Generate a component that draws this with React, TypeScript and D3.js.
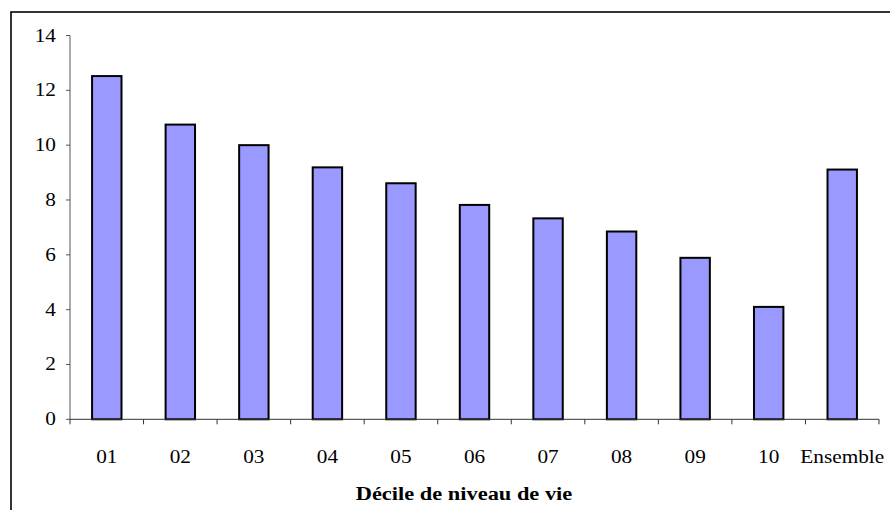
import React from "react";
import * as d3 from "d3";

const categories = ["01", "02", "03", "04", "05", "06", "07", "08", "09", "10", "Ensemble"];
const values = [12.52, 10.75, 10.0, 9.19, 8.61, 7.82, 7.33, 6.85, 5.89, 4.1, 9.11];
const yTicks = [0, 2, 4, 6, 8, 10, 12, 14];
const xAxisTitle = "Décile de niveau de vie";

const W = 890;
const H = 510;
const left = 70;
const right = 879;
const top = 35.5;
const bottom = 419.3;
const FONT = "Times New Roman, Liberation Serif, Times, serif";
const SX = 1.15;

export default function App() {
  const x = d3.scaleBand<string>().domain(categories).range([left, right]).paddingInner(0.6).paddingOuter(0.3);
  const y = d3.scaleLinear().domain([0, 14]).range([bottom, top]);
  const boundaries = d3.range(categories.length + 1).map((i) => left + i * ((right - left) / categories.length));

  return (
    <svg width={W} height={H} style={{ position: "absolute", left: 0, top: 0, background: "#fff" }}>
      <rect x={11} y={12} width={1000} height={1000} fill="#fff" stroke="#000" strokeWidth={1.6} />
      {categories.map((c, i) => (
        <rect
          key={c}
          x={x(c)!}
          y={y(values[i])}
          width={x.bandwidth()}
          height={y(0) - y(values[i])}
          fill="#9999FF"
          stroke="#000"
          strokeWidth={2}
        />
      ))}
      <line x1={left} x2={left} y1={y(14)} y2={y(0)} stroke="#555" strokeWidth={1} />
      {yTicks.map((t) => (
        <g key={t}>
          <line x1={left - 4} x2={left} y1={y(t)} y2={y(t)} stroke="#555" strokeWidth={1} />
          <text
            transform={`translate(${left - 14},${y(t) + 6}) scale(${SX},1)`}
            textAnchor="end"
            style={{ fontFamily: FONT, fontSize: 18.5 }}
            fill="#000"
          >
            {t}
          </text>
        </g>
      ))}
      <line x1={left} x2={right} y1={y(0)} y2={y(0)} stroke="#333" strokeWidth={1} />
      {boundaries.map((b, i) => (
        <line key={i} x1={b} x2={b} y1={y(0)} y2={y(0) + 5} stroke="#333" strokeWidth={1} />
      ))}
      {categories.map((c) => (
        <text
          key={c}
          transform={`translate(${x(c)! + x.bandwidth() / 2},${463}) scale(${SX},1)`}
          textAnchor="middle"
          style={{ fontFamily: FONT, fontSize: 18.5 }}
          fill="#000"
        >
          {c}
        </text>
      ))}
      <text
        transform={`translate(${464},${500}) scale(${SX},1)`}
        textAnchor="middle"
        style={{ fontFamily: FONT, fontSize: 19.5, fontWeight: "bold" }}
        fill="#000"
      >
        {xAxisTitle}
      </text>
    </svg>
  );
}
